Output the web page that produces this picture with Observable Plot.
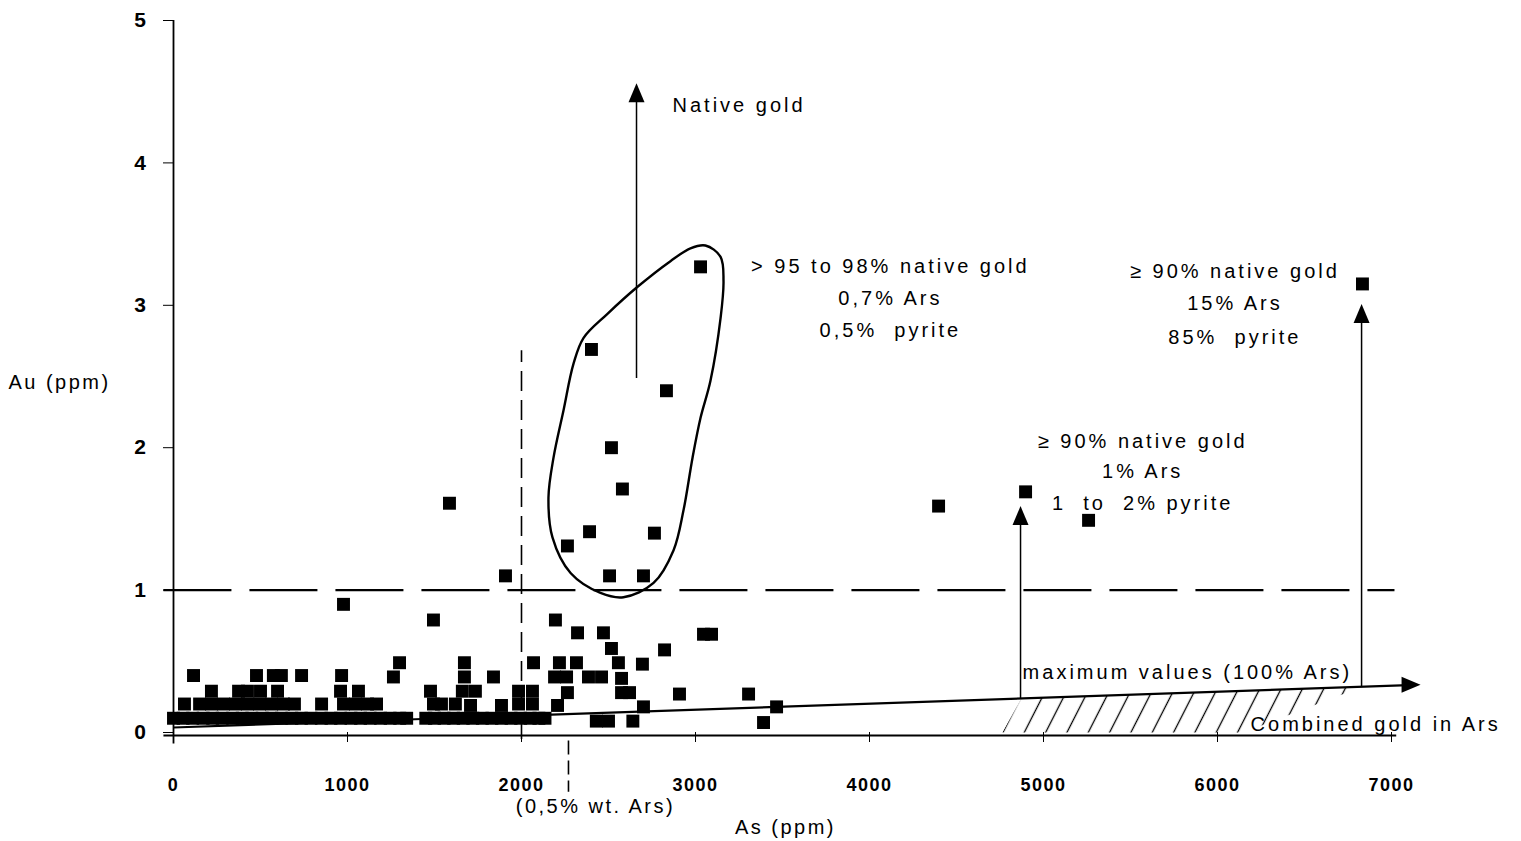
<!DOCTYPE html>
<html><head><meta charset="utf-8">
<script src="https://cdn.jsdelivr.net/npm/d3@7"></script>
<script src="https://cdn.jsdelivr.net/npm/@observablehq/plot@0.6"></script>
<style>
html,body{margin:0;padding:0;background:#fff;}
#chart svg{display:block;}
g[aria-label="x-axis tick label"] text, g[aria-label="y-axis tick label"] text{letter-spacing:1.5px;}
</style></head><body><div id="chart"></div>
<script>
// Samples: As (ppm) vs Au (ppm)
const sampleAs = [
  // band near 0.1 ppm Au
  0,55,110,170,225,280,340,395,450,510,565,620,680,735,790,850,905,960,1020,1075,1130,1190,1245,1300,1340,1450,1500,1555,1610,1665,1720,1775,1830,1885,1940,1995,2050,2100,2135,
  2430,2500,2640,3391,
  // ~0.2
  63,150,218,287,356,425,494,563,632,695,851,977,1046,1115,1167,1494,1540,1620,1707,1885,1983,2063,2207,2701,3466,
  // ~0.29
  218,374,425,500,598,960,1063,1477,1660,1735,1983,2063,2264,2575,2621,2908,3305,
  // ~0.4
  115,477,574,620,736,966,1264,1672,1839,2190,2259,2385,2460,2575,
  // ~0.49
  1299,1672,2069,2218,2316,2557,2695,
  // 0.55 - 0.9
  2517,2822,2322,2471,3046,3092,2195,1494,977,
  // above 1
  1586,1908,4397,4897,5259,6833,
  // circled group
  3029,2402,2833,2517,2580,2391,2264,2764,2506,2701
];
const sampleAu = [
  0.1,0.1,0.1,0.1,0.1,0.1,0.1,0.1,0.1,0.1,0.1,0.1,0.1,0.1,0.1,0.1,0.1,0.1,0.1,0.1,0.1,0.1,0.1,0.1,0.1,0.1,0.1,0.1,0.1,0.1,0.1,0.1,0.1,0.1,0.1,0.1,0.1,0.1,0.1,
  0.08,0.08,0.08,0.07,
  0.2,0.2,0.2,0.2,0.2,0.2,0.2,0.2,0.2,0.2,0.2,0.2,0.2,0.2,0.2,0.2,0.2,0.2,0.19,0.19,0.2,0.2,0.19,0.18,0.18,
  0.29,0.29,0.29,0.29,0.29,0.29,0.29,0.29,0.29,0.29,0.29,0.29,0.28,0.28,0.28,0.27,0.27,
  0.4,0.4,0.4,0.4,0.4,0.4,0.39,0.39,0.39,0.39,0.39,0.39,0.39,0.38,
  0.49,0.49,0.49,0.49,0.49,0.49,0.48,
  0.59,0.58,0.7,0.7,0.69,0.69,0.79,0.79,0.9,
  1.61,1.1,1.59,1.69,1.49,3.15,
  3.27,2.69,2.4,2.0,1.71,1.41,1.31,1.4,1.1,1.1
];
const samples = sampleAs.map((v, i) => ({as: v, au: sampleAu[i]}));

// Outline around the native-gold group
const outlineAs = [3057,3144,3161,3144,3086,3029,2983,2931,2874,2759,2586,2454,2282,2178,2155,2184,2241,2299,2356,2494,2667,2856,2971];
const outlineAu = [3.42,3.34,3.17,2.91,2.47,2.21,1.93,1.56,1.28,1.05,0.95,0.98,1.12,1.37,1.65,1.93,2.26,2.59,2.77,2.94,3.13,3.31,3.40];
const outline = outlineAs.map((v, i) => ({as: v, au: outlineAu[i]}));

// Combined-gold (hatched) zone
const hatchAs = [4764, 4873, 6828, 6150];
const hatchAu = [0, 0.239, 0.32, 0];
const hatch = hatchAs.map((v, i) => ({as: v, au: hatchAu[i]}));

// Maximum values line (100% Ars)
const maxLine = [{as0: 0, au0: 0.035, as1: 7140, au1: 0.334}];

// Vertical arrows
const arrowAs = [2661, 4868, 6828];
const arrowFrom = [2.49, 0.239, 0.32];
const arrowTo = [4.5, 1.55, 2.97];
const arrows = arrowAs.map((v, i) => ({as: v, from: arrowFrom[i], to: arrowTo[i]}));
const headAs = [2661, 4868, 6828, 7167];
const headAu = [4.56, 1.59, 3.01, 0.335];
const headRot = [0, 0, 0, 90];
const heads = headAs.map((v, i) => ({as: v, au: headAu[i], rot: headRot[i]}));

// Ticks
const xTicks = [0, 1000, 2000, 3000, 4000, 5000, 6000, 7000];
const yTicks = [0, 1, 2, 3, 4, 5];

// Annotations
const noteText = ["Native gold", "> 95 to 98% native gold", "0,7% Ars", "0,5%  pyrite",
  "≥ 90% native gold", "15% Ars", "85%  pyrite",
  "≥ 90% native gold", "1% Ars", "1  to  2% pyrite",
  "maximum values (100% Ars)", "Combined gold in Ars"];
const noteAs = [2868, 4120, 4120, 4120, 6100, 6100, 6100, 5570, 5570, 5570, 4880, 6190];
const noteAu = [4.40, 3.27, 3.05, 2.82, 3.24, 3.01, 2.77, 2.04, 1.83, 1.61, 0.42, 0.056];
const noteAnchor = ["start", "middle", "middle", "middle", "middle", "middle", "middle", "middle", "middle", "middle", "start", "start"];
const notes = noteText.map((t, i) => ({t, as: noteAs[i], au: noteAu[i], anchor: noteAnchor[i]}));

const titleText = ["(0,5% wt. Ars)", "As (ppm)", "Au (ppm)"];
const titleAs = [2425, 3517, -655];
const titleAu = [-0.52, -0.67, 2.46];
const titles = titleText.map((t, i) => ({t, as: titleAs[i], au: titleAu[i]}));

const headSymbol = {
  draw(context) {
    context.moveTo(0, 0);
    context.lineTo(-8, 19);
    context.lineTo(8, 19);
    context.closePath();
  }
};

const svg = Plot.plot({
  width: 1521,
  height: 841,
  marginLeft: 173,
  marginRight: 130,
  marginTop: 20,
  marginBottom: 109,
  style: {fontFamily: "'Liberation Sans', Arial, sans-serif", background: "white", color: "black"},
  x: {domain: [0, 7000]},
  y: {domain: [0, 5]},
  marks: [
    Plot.line(hatch, {x: "as", y: "au", fill: "url(#hatch)", stroke: "none"}),
    Plot.ruleY([1], {x1: -55, x2: 7020, strokeDasharray: "68,18", strokeWidth: 2.2}),
    Plot.ruleX([2000], {y1: -0.05, y2: 2.68, strokeDasharray: "20,9", strokeWidth: 1.6}),
    Plot.ruleX([2270], {y1: -0.06, y2: -0.42, strokeDasharray: "14,6", strokeWidth: 1.6}),
    Plot.ruleY([0], {x1: -55, x2: 7030, dy: 3, strokeWidth: 2.2}),
    Plot.ruleX([0], {y1: -0.08, y2: 5, strokeWidth: 1.8}),
    Plot.link(maxLine, {x1: "as0", y1: "au0", x2: "as1", y2: "au1", strokeWidth: 2.2}),
    Plot.link(arrows, {x1: "as", y1: "from", x2: "as", y2: "to", strokeWidth: 1.5}),
    Plot.dot(heads, {x: "as", y: "au", symbol: headSymbol, rotate: "rot", r: 5, fill: "black", stroke: "none"}),
    Plot.line(outline, {x: "as", y: "au", curve: "catmull-rom-closed", strokeWidth: 2.4}),
    Plot.dot(samples, {x: "as", y: "au", symbol: "square", r: 7.3, fill: "black", stroke: "none"}),
    Plot.axisX({ticks: xTicks, tickSize: 10, tickPadding: 36, fontSize: 18, fontWeight: "bold", label: null, tickFormat: d => String(d)}),
    Plot.axisY({ticks: yTicks, tickSize: 10, tickPadding: 16, fontSize: 21, fontWeight: "bold", label: null, tickFormat: d => String(d)}),
    Plot.text(notes.filter(d => d.anchor === "middle"), {x: "as", y: "au", text: "t", textAnchor: "middle", fontSize: 20, fill: "black"}),
    Plot.text(notes.filter(d => d.anchor === "start"), {x: "as", y: "au", text: "t", textAnchor: "start", fontSize: 20, fill: "black"}),
    Plot.text(titles, {x: "as", y: "au", text: "t", fontSize: 20, fill: "black"})
  ]
});

// letter spacing for the three text layers (notes, notes, titles)
const textGroups = svg.querySelectorAll('g[aria-label="text"]');
const spacing = [3, 3, 2.5];
textGroups.forEach((g, i) => {
  g.querySelectorAll("text").forEach(t => t.style.letterSpacing = (spacing[i] ?? 2.5) + "px");
});

const defs = d3.select(svg).insert("defs", ":first-child");
defs.append("pattern")
  .attr("id", "hatch")
  .attr("patternUnits", "userSpaceOnUse")
  .attr("width", 19).attr("height", 19)
  .attr("patternTransform", "rotate(27)")
  .append("line")
  .attr("x1", 9.5).attr("y1", 0).attr("x2", 9.5).attr("y2", 19)
  .attr("stroke", "black").attr("stroke-width", 1.3);

document.getElementById("chart").appendChild(svg);
</script></body></html>
